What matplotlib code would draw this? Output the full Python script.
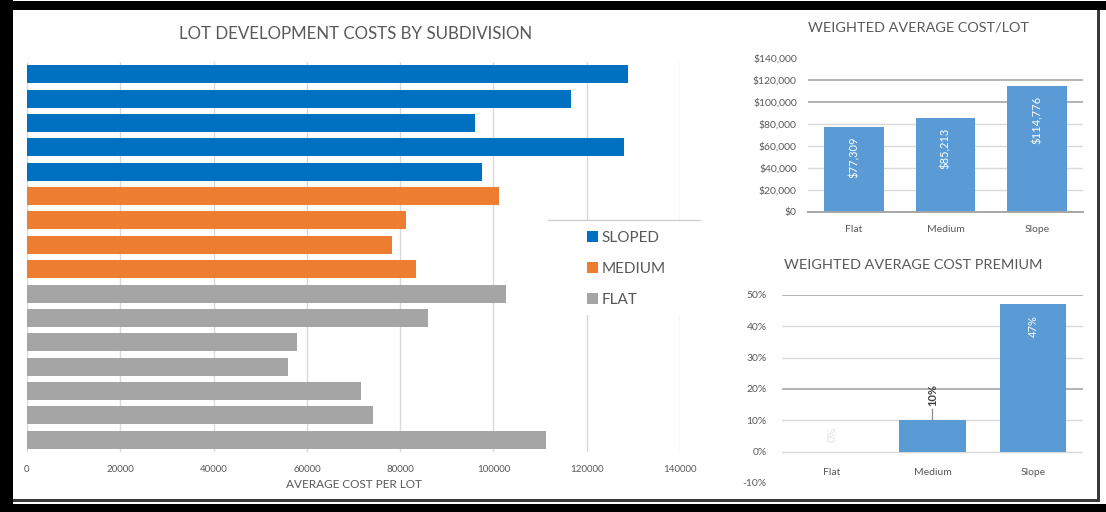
import matplotlib
matplotlib.use("Agg")
import matplotlib.pyplot as plt
from matplotlib.patches import Patch, Rectangle
from matplotlib.lines import Line2D

# ---- data ----
sloped_costs = [128900, 116600, 96000, 128000, 97500]
medium_costs = [101200, 81300, 78300, 83400]
flat_costs = [102700, 86000, 57900, 56000, 71600, 74200, 111300]
group_names = ["SLOPED", "MEDIUM", "FLAT"]
main_ticks = [0, 20000, 40000, 60000, 80000, 100000, 120000, 140000]

terrain = ["Flat", "Medium", "Slope"]
weighted_cost = [77309, 85213, 114776]
cost_ticks = [0, 20000, 40000, 60000, 80000, 100000, 120000, 140000]

premium = [0.0, 0.10, 0.47]
premium_ticks = [-0.10, 0.0, 0.10, 0.20, 0.30, 0.40, 0.50]

# ---- style ----
BLUE, ORANGE, GRAY = "#0070C0", "#ED7D31", "#A5A5A5"
BAR2 = "#5B9BD5"
TXT = "#595959"
GRID = "#d9d9d9"
GRID_DARK = "#b3b3b3"
plt.rcParams["font.family"] = ["Lato", "DejaVu Sans"]

W, H = 1106, 512
fig = plt.figure(figsize=(W / 100, H / 100), dpi=100)
fig.patch.set_facecolor("white")


def fx(px):
    return px / W


def fy(py):
    return 1 - py / H


# ---- main horizontal bar chart ----
ax = fig.add_axes([fx(27), fy(452), fx(680) - fx(27), fy(62) - fy(452)])
values = sloped_costs + medium_costs + flat_costs
colors = [BLUE] * len(sloped_costs) + [ORANGE] * len(medium_costs) + [GRAY] * len(flat_costs)
rows = list(range(len(values)))
ax.barh(rows, values, height=0.74, color=colors, zorder=2)
ax.set_xlim(0, 140000)
ax.set_ylim(len(values) - 0.5, -0.5)
ax.set_xticks(main_ticks)
ax.set_xticklabels([str(t) for t in main_ticks], fontsize=7, color=TXT)
ax.set_yticks([])
ax.tick_params(axis="x", length=0, pad=9)
ax.grid(axis="x", color=GRID, lw=1.0, zorder=0)
ax.set_axisbelow(True)
for s in ax.spines.values():
    s.set_visible(False)
ax.set_xlabel("AVERAGE COST PER LOT", fontsize=8.5, color=TXT, labelpad=4)

# legend panel
ax.add_patch(Rectangle((fx(548), fy(315)), fx(700) - fx(548), fy(220) - fy(315),
                       transform=fig.transFigure, facecolor="white", edgecolor="none",
                       zorder=3, clip_on=False))
ax.add_line(Line2D([fx(548), fx(700)], [fy(220), fy(220)], transform=fig.transFigure,
                   color="#d0d0d0", lw=1.0, zorder=3.5, clip_on=False))
handles = [Patch(facecolor=c, edgecolor="none") for c in (BLUE, ORANGE, GRAY)]
leg = ax.legend(handles, group_names, loc="upper left",
                bbox_to_anchor=(fx(587), fy(231)), bbox_transform=fig.transFigure,
                frameon=False, fontsize=11, handlelength=0.7, handleheight=0.7,
                handletextpad=0.25, labelspacing=1.1, borderpad=0, borderaxespad=0)
for t in leg.get_texts():
    t.set_color(TXT)

fig.text(fx(356), fy(34), "LOT DEVELOPMENT COSTS BY SUBDIVISION", ha="center", va="center",
         fontsize=12.2, color=TXT)

# ---- weighted average cost per lot ----
ax2 = fig.add_axes([fx(808), fy(212), fx(1083) - fx(808), fy(58) - fy(212)])
xpos = list(range(len(terrain)))
bars2 = ax2.bar(xpos, weighted_cost, width=0.65, color=BAR2, zorder=2)
ax2.set_xlim(-0.5, len(terrain) - 0.5)
ax2.set_ylim(0, 140000)
ax2.set_yticks(cost_ticks)
ax2.set_yticklabels(["${:,}".format(t) for t in cost_ticks], fontsize=7.5, color=TXT)
ax2.set_xticks(xpos)
ax2.set_xticklabels(terrain, fontsize=7.5, color=TXT)
ax2.tick_params(axis="both", length=0)
ax2.tick_params(axis="y", pad=8)
ax2.tick_params(axis="x", pad=9)
ax2.grid(axis="y", color=GRID, lw=1.0, zorder=0)
ax2.set_axisbelow(True)
for s in ax2.spines.values():
    s.set_visible(False)
ax2.spines["bottom"].set_visible(True)
ax2.spines["bottom"].set_color("#a6a6a6")
ax2.spines["bottom"].set_linewidth(1.4)
for t, gl in zip(cost_ticks, ax2.yaxis.get_gridlines()):
    if t in (0, 140000):
        gl.set_visible(False)
    elif t in (100000, 120000):
        gl.set_color(GRID_DARK)
        gl.set_linewidth(1.4)
for b, v in zip(bars2, weighted_cost):
    ax2.annotate("${:,}".format(v), xy=(b.get_x() + b.get_width() / 2, v),
                 xytext=(0, -7), textcoords="offset points", rotation=90,
                 ha="center", va="top", fontsize=8, color="white")
fig.text(fx(918), fy(28), "WEIGHTED AVERAGE COST/LOT", ha="center", va="center",
         fontsize=10.4, color=TXT)

# ---- weighted average cost premium ----
ax3 = fig.add_axes([fx(782), fy(483), fx(1083) - fx(782), fy(295) - fy(483)])
for s in ax3.spines.values():
    s.set_visible(False)
ax3.spines["bottom"].set_position(("data", 0))
bars3 = ax3.bar(xpos, premium, width=0.66, color=BAR2, zorder=2)
ax3.set_xlim(-0.5, len(terrain) - 0.5)
ax3.set_ylim(-0.10, 0.50)
ax3.set_yticks(premium_ticks)
ax3.set_yticklabels(["{:.0%}".format(t) for t in premium_ticks], fontsize=7.5, color=TXT)
ax3.set_xticks(xpos)
ax3.set_xticklabels(terrain, fontsize=7.5, color=TXT)
ax3.tick_params(axis="both", length=0)
ax3.tick_params(axis="y", pad=11)
ax3.tick_params(axis="x", pad=12)
ax3.grid(axis="y", color=GRID, lw=1.0, zorder=0)
ax3.set_axisbelow(True)
for t, gl in zip(premium_ticks, ax3.yaxis.get_gridlines()):
    if t < 0:
        gl.set_visible(False)
    elif round(t, 2) in (0.2, 0.5):
        gl.set_color(GRID_DARK)
        gl.set_linewidth(1.4)

for b, v, name in zip(bars3, premium, terrain):
    cx = b.get_x() + b.get_width() / 2
    label = "{:.0%}".format(v)
    if name == "Medium":
        ax3.annotate(label, xy=(cx, v), xytext=(0, 10), textcoords="offset points",
                     rotation=90, ha="center", va="bottom", fontsize=8, color="#404040",
                     fontweight="bold",
                     arrowprops=dict(arrowstyle="-", color="#8c8c8c", lw=0.9,
                                     shrinkA=0, shrinkB=0))
    elif v == 0:
        ax3.annotate(label, xy=(cx, v), xytext=(0, 7), textcoords="offset points",
                     rotation=90, ha="center", va="bottom", fontsize=8, color="#e2e2e2")
    else:
        ax3.annotate(label, xy=(cx, v), xytext=(0, -8), textcoords="offset points",
                     rotation=90, ha="center", va="top", fontsize=8, color="white")
fig.text(fx(913), fy(265), "WEIGHTED AVERAGE COST PREMIUM", ha="center", va="center",
         fontsize=10.4, color=TXT)

# ---- outer frame ----
def band(x0, y0, x1, y1, color):
    fig.add_artist(Rectangle((fx(x0), fy(y1)), fx(x1) - fx(x0), fy(y0) - fy(y1),
                             transform=fig.transFigure, facecolor=color,
                             edgecolor="none", zorder=10))

band(0, 1, W, 10, "black")
band(0, 0, 12.5, H, "black")
band(0, 504, W, H, "black")
band(12.5, 499, 1099, 501.5, "#3a3a3a")
band(1097, 10, 1099.5, 501.5, "#3a3a3a")

fig.savefig("out.png", dpi=100, facecolor="white")
